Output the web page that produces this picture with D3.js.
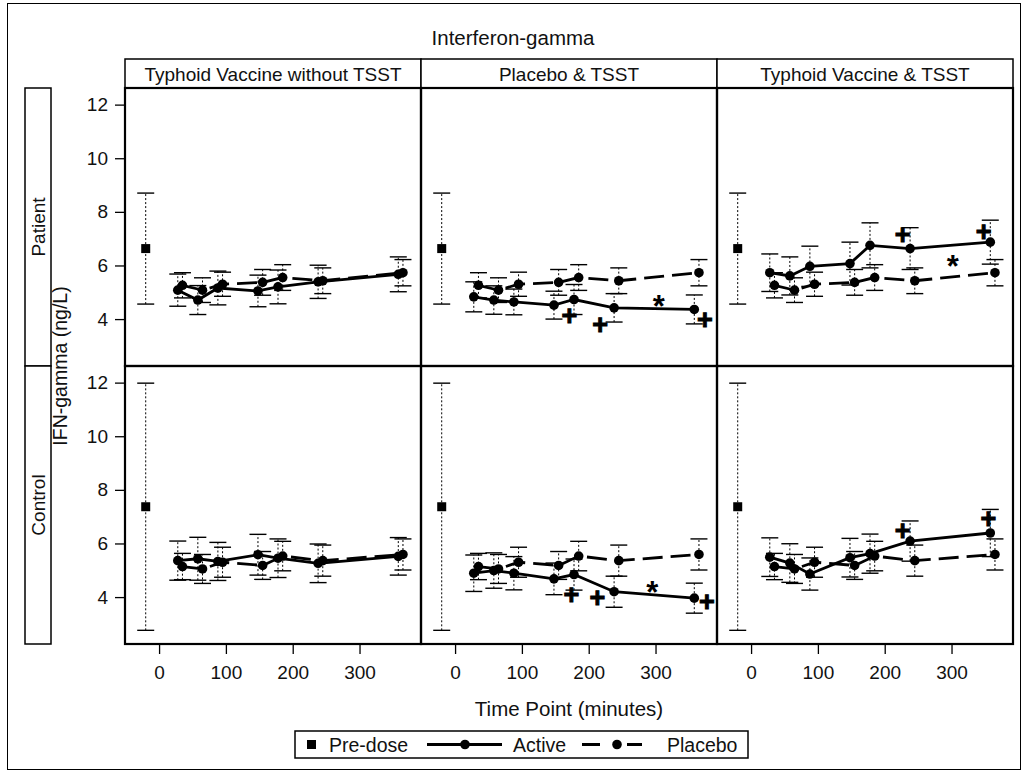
<!DOCTYPE html>
<html>
<head>
<meta charset="utf-8">
<script src="https://cdn.jsdelivr.net/npm/d3@7"></script>
<style>
  body { margin: 0; background: #fff; }
  svg { display: block; font-family: "Liberation Sans", Arial, sans-serif; }
</style>
</head>
<body>
<svg id="chart" width="1028" height="774"></svg>
<script>
// ---- data -------------------------------------------------------------
const columnLabels = ["Typhoid Vaccine without TSST", "Placebo & TSST", "Typhoid Vaccine & TSST"];
const rowLabels = ["Patient", "Control"];
const timePoints = [30, 60, 90, 150, 180, 240, 360];
const xTicks = [0, 100, 200, 300];
const yTicks = [4, 6, 8, 10, 12];

// pre-dose sample (plotted at -20 min), mean and half-width per row
const preDoseTime = -20;
const preDoseMean = [6.63, 7.37];
const preDoseErr = [2.07, 4.61];

// placebo infusion, shared by the three columns of a row
const placeboPatient = [5.26, 5.08, 5.30, 5.37, 5.55, 5.43, 5.73];
const placeboPatientErr = [0.47, 0.46, 0.45, 0.48, 0.48, 0.48, 0.49];
const placeboControl = [5.14, 5.05, 5.30, 5.18, 5.53, 5.36, 5.59];
const placeboControlErr = [0.49, 0.54, 0.56, 0.52, 0.55, 0.58, 0.58];

// active infusion, one series per panel
const activePatientVaccine = [5.08, 4.71, 5.16, 5.05, 5.20, 5.39, 5.67];
const activePatientVaccineErr = [0.60, 0.54, 0.63, 0.59, 0.63, 0.62, 0.65];
const activePatientPlaceboTsst = [4.83, 4.71, 4.64, 4.52, 4.73, 4.42, 4.36];
const activePatientPlaceboTsstErr = [0.56, 0.53, 0.48, 0.52, 0.56, 0.53, 0.54];
const activePatientVaccineTsst = [5.73, 5.61, 5.97, 6.07, 6.75, 6.63, 6.87];
const activePatientVaccineTsstErr = [0.70, 0.71, 0.75, 0.80, 0.84, 0.78, 0.82];
const activeControlVaccine = [5.36, 5.43, 5.33, 5.58, 5.45, 5.26, 5.52];
const activeControlVaccineErr = [0.73, 0.80, 0.71, 0.76, 0.72, 0.72, 0.70];
const activeControlPlaceboTsst = [4.89, 4.99, 4.89, 4.68, 4.84, 4.20, 3.96];
const activeControlPlaceboTsstErr = [0.68, 0.66, 0.62, 0.59, 0.58, 0.58, 0.56];
const activeControlVaccineTsst = [5.49, 5.27, 4.86, 5.47, 5.62, 6.09, 6.39];
const activeControlVaccineTsstErr = [0.72, 0.72, 0.60, 0.72, 0.73, 0.75, 0.88];

// significance markers: [row, column, minutes, value]
const plusMarks = [
  [0, 1, 171, 4.15], [0, 1, 217, 3.80], [0, 1, 374, 4.01],
  [0, 2, 227, 7.15], [0, 2, 348, 7.27],
  [1, 1, 174, 4.11], [1, 1, 213, 4.01], [1, 1, 377, 3.84],
  [1, 2, 227, 6.49], [1, 2, 355, 6.93]
];
const starMarks = [
  [0, 1, 305, 4.83], [0, 2, 302, 6.32], [1, 1, 295, 4.55]
];

// ---- panel tables built from the arrays above --------------------------
const activeMeans = [
  [activePatientVaccine, activePatientPlaceboTsst, activePatientVaccineTsst],
  [activeControlVaccine, activeControlPlaceboTsst, activeControlVaccineTsst]
];
const activeErrs = [
  [activePatientVaccineErr, activePatientPlaceboTsstErr, activePatientVaccineTsstErr],
  [activeControlVaccineErr, activeControlPlaceboTsstErr, activeControlVaccineTsstErr]
];
const placeboMeans = [placeboPatient, placeboControl];
const placeboErrs = [placeboPatientErr, placeboControlErr];

// ---- layout -------------------------------------------------------------
const svg = d3.select("#chart");
const FONT = "'Liberation Sans', Arial, sans-serif";
const ink = "#111";
const panelLeft = 125, panelW = 296, panelTop = 88, panelH = 278;
const activeShift = -2, placeboShift = 5;   // small horizontal dodge (minutes)
const capHalf = 8.5;

svg.append("rect").attr("x", 7.5).attr("y", 3.5).attr("width", 1013).attr("height", 766)
  .attr("fill", "#fff").attr("stroke", "#000").attr("stroke-width", 1);

svg.append("text").attr("x", 513).attr("y", 45).attr("text-anchor", "middle")
  .attr("font-size", 20.5).attr("fill", ink).text("Interferon-gamma");

const xScales = columnLabels.map((_, c) =>
  d3.scaleLinear().domain([-51, 392]).range([panelLeft + c * panelW, panelLeft + (c + 1) * panelW]));
const yScales = rowLabels.map((_, r) =>
  d3.scaleLinear().domain([2.25, 12.62]).range([panelTop + (r + 1) * panelH, panelTop + r * panelH]));

// column headers
columnLabels.forEach((lab, c) => {
  const x0 = panelLeft + c * panelW;
  svg.append("rect").attr("x", x0).attr("y", 59).attr("width", panelW).attr("height", panelTop - 59)
    .attr("fill", "#fff").attr("stroke", "#000").attr("stroke-width", 1.5);
  svg.append("text").attr("x", x0 + panelW / 2).attr("y", 74).attr("dy", "0.36em")
    .attr("text-anchor", "middle").attr("font-size", 19).attr("fill", ink).text(lab);
});

// row headers on the left
rowLabels.forEach((lab, r) => {
  const y0 = panelTop + r * panelH;
  svg.append("rect").attr("x", 25).attr("y", y0).attr("width", 26).attr("height", panelH)
    .attr("fill", "#fff").attr("stroke", "#000").attr("stroke-width", 1.5);
  svg.append("text").attr("transform", `translate(38,${y0 + panelH / 2}) rotate(-90)`)
    .attr("dy", "0.36em").attr("text-anchor", "middle").attr("font-size", 19).attr("fill", ink).text(lab);
});

// axis titles
svg.append("text").attr("transform", `translate(60,${panelTop + panelH}) rotate(-90)`)
  .attr("dy", "0.36em").attr("text-anchor", "middle").attr("font-size", 19.5).attr("fill", ink)
  .text("IFN-gamma (ng/L)");
svg.append("text").attr("x", panelLeft + 1.5 * panelW).attr("y", 716).attr("text-anchor", "middle")
  .attr("font-size", 20.5).attr("fill", ink).text("Time Point (minutes)");

function styleAxis(g) {
  g.select(".domain").remove();
  g.selectAll(".tick line").attr("stroke", "#000").attr("stroke-width", 1.3);
  g.selectAll(".tick text").attr("fill", ink).attr("font-size", 19).attr("font-family", FONT);
}

// y axes on the first column
yScales.forEach(y => {
  svg.append("g").attr("transform", `translate(${panelLeft},0)`)
    .call(d3.axisLeft(y).tickValues(yTicks).tickSize(10).tickPadding(7))
    .call(styleAxis);
});
// x axes under the bottom row
xScales.forEach(x => {
  svg.append("g").attr("transform", `translate(0,${panelTop + 2 * panelH})`)
    .call(d3.axisBottom(x).tickValues(xTicks).tickSize(10).tickPadding(12))
    .call(styleAxis);
});

function errorBar(g, x, y, t, m, e) {
  const px = x(t);
  g.append("line").attr("x1", px).attr("x2", px).attr("y1", y(m - e)).attr("y2", y(m + e))
    .attr("stroke", "#000").attr("stroke-width", 1).attr("stroke-dasharray", "2,2");
  [m - e, m + e].forEach(v => {
    g.append("line").attr("x1", px - capHalf).attr("x2", px + capHalf).attr("y1", y(v)).attr("y2", y(v))
      .attr("stroke", "#000").attr("stroke-width", 1.4);
  });
}

rowLabels.forEach((_, r) => {
  const y = yScales[r];
  columnLabels.forEach((_, c) => {
    const x = xScales[c];
    const g = svg.append("g");
    const act = timePoints.map((t, i) => ({ t: t + activeShift, m: activeMeans[r][c][i], e: activeErrs[r][c][i] }));
    const pla = timePoints.map((t, i) => ({ t: t + placeboShift, m: placeboMeans[r][i], e: placeboErrs[r][i] }));

    // error bars
    errorBar(g, x, y, preDoseTime, preDoseMean[r], preDoseErr[r]);
    pla.forEach(d => errorBar(g, x, y, d.t, d.m, d.e));
    act.forEach(d => errorBar(g, x, y, d.t, d.m, d.e));

    // mean profiles
    const line = d3.line().x(d => x(d.t)).y(d => y(d.m));
    g.append("path").datum(pla).attr("d", line).attr("fill", "none").attr("stroke", "#000")
      .attr("stroke-width", 2.8).attr("stroke-dasharray", "20,8");
    g.append("path").datum(act).attr("d", line).attr("fill", "none").attr("stroke", "#000")
      .attr("stroke-width", 2.8);
    g.selectAll(null).data(pla.concat(act)).join("circle")
      .attr("cx", d => x(d.t)).attr("cy", d => y(d.m)).attr("r", 4.8).attr("fill", "#000");

    // pre-dose mean
    g.append("rect").attr("x", x(preDoseTime) - 4.5).attr("y", y(preDoseMean[r]) - 4.5)
      .attr("width", 9).attr("height", 9).attr("fill", "#000");

    // significance markers
    plusMarks.filter(d => d[0] === r && d[1] === c).forEach(d => {
      g.append("text").attr("x", x(d[2])).attr("y", y(d[3])).attr("dy", "0.36em")
        .attr("text-anchor", "middle").attr("font-size", 27).attr("font-weight", "bold")
        .attr("fill", "#000").attr("stroke", "#000").attr("stroke-width", 1).text("+");
    });
    starMarks.filter(d => d[0] === r && d[1] === c).forEach(d => {
      g.append("text").attr("x", x(d[2])).attr("y", y(d[3])).attr("dy", "0.66em")
        .attr("text-anchor", "middle").attr("font-size", 31).attr("font-weight", "bold")
        .attr("fill", "#000").text("*");
    });

    // panel frame
    svg.append("rect").attr("x", x.range()[0]).attr("y", y.range()[1])
      .attr("width", panelW).attr("height", panelH)
      .attr("fill", "none").attr("stroke", "#000").attr("stroke-width", 2.2);
  });
});

// legend
const lg = svg.append("g");
lg.append("rect").attr("x", 295).attr("y", 731).attr("width", 453).attr("height", 27)
  .attr("fill", "#fff").attr("stroke", "#000").attr("stroke-width", 1.5);
const ly = 744.5;
lg.append("rect").attr("x", 307).attr("y", ly - 4.5).attr("width", 9).attr("height", 9).attr("fill", "#000");
lg.append("text").attr("x", 329).attr("y", ly).attr("dy", "0.36em").attr("font-size", 19.5).attr("fill", ink).text("Pre-dose");
lg.append("line").attr("x1", 427).attr("x2", 502).attr("y1", ly).attr("y2", ly)
  .attr("stroke", "#000").attr("stroke-width", 2.8);
lg.append("circle").attr("cx", 465).attr("cy", ly).attr("r", 4.8).attr("fill", "#000");
lg.append("text").attr("x", 513).attr("y", ly).attr("dy", "0.36em").attr("font-size", 19.5).attr("fill", ink).text("Active");
lg.append("line").attr("x1", 582).attr("x2", 642).attr("y1", ly).attr("y2", ly)
  .attr("stroke", "#000").attr("stroke-width", 2.8).attr("stroke-dasharray", "18,27,15");
lg.append("circle").attr("cx", 617).attr("cy", ly).attr("r", 4.8).attr("fill", "#000");
lg.append("text").attr("x", 667).attr("y", ly).attr("dy", "0.36em").attr("font-size", 19.5).attr("fill", ink).text("Placebo");
</script>
</body>
</html>
